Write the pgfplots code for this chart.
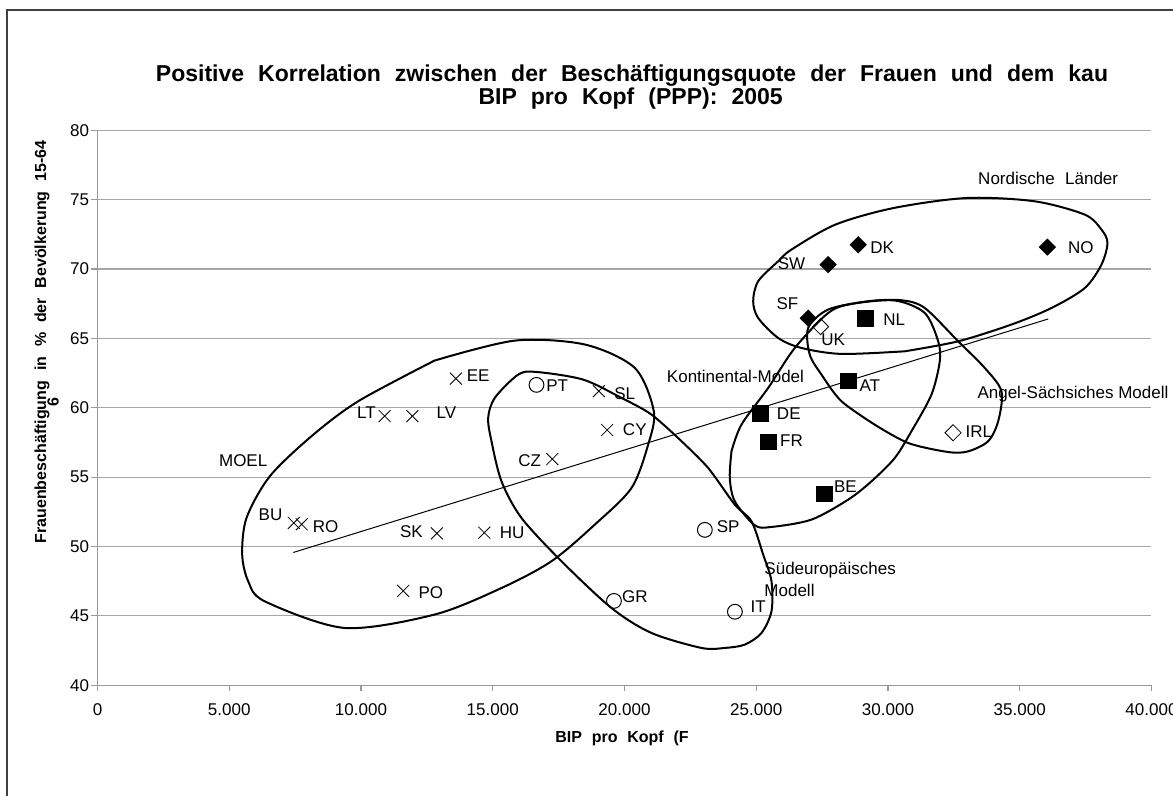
\documentclass[border=0pt]{standalone}
\usepackage{fontspec}
\setmainfont{Liberation Sans}
\newfontfamily\titlefont[WordSpace=2.6]{Liberation Sans}
\newfontfamily\labfont[WordSpace=2.2]{Liberation Sans}
\usepackage{pgfplots}
\pgfplotsset{compat=1.18}
\newcommand\lab{\fontsize{8.5}{11}\selectfont}
\begin{document}
\begin{tikzpicture}[x=1pt,y=1pt]
\useasboundingbox (0,0) rectangle (586.5,398);
\draw[gray!50!black, line width=1pt] (3.5,-5) -- (3.5,393) -- (600,393);
\node[font=\titlefont\bfseries\fontsize{11.5}{13}\selectfont] at (316,360) {Positive Korrelation zwischen der Beschäftigungsquote der Frauen und dem kau};
\node[font=\titlefont\bfseries\fontsize{11.5}{13}\selectfont] at (315.3,348.5) {BIP pro Kopf (PPP): 2005};
\node[font=\labfont\bfseries\fontsize{8}{9}\selectfont, rotate=90] at (21,227) {Frauenbeschäftigung in \% der Bevölkerung 15-64};
\node[font=\labfont\bfseries\fontsize{8}{9}\selectfont, rotate=90] at (26.5,197) {6};
\node[font=\labfont\bfseries\fontsize{8}{10}\selectfont] at (311,29) {BIP pro Kopf (F};
\begin{axis}[
  at={(37,79.8)}, anchor=south west,
  scale only axis, width=527pt, height=277.5pt,
  xmin=0, xmax=40000, ymin=40, ymax=80,
  axis x line=bottom, axis y line=left,
  axis line style={-, gray!80, line width=0.6pt},
  every tick/.style={gray!80, line width=0.6pt},
  tick align=outside, major tick length=3pt,
  xtick={0,5000,...,40000}, ytick={40,45,...,80},
  scaled x ticks=false,
  /pgf/number format/1000 sep={.},
  /pgf/number format/assume math mode=true,
  tick label style={font=\fontsize{8.5}{10}\selectfont, black},
  yticklabel style={inner xsep=1pt},
  xticklabel style={yshift=-2.5pt},
  ymajorgrids, grid style={gray!70, line width=0.6pt},
  clip=false,
]
% group outlines
\addplot[black, line width=1pt, smooth, tension=0.5] coordinates {
(12789,63.40) (15837,64.84) (18493,64.56) (20391,62.87) (21112,59.75) (20899,57.35) (20265,54.22) (18873,51.58) (17229,48.94) (15332,47.01) (12801,45.10) (9385,44.13) (6349,46.05) (5719,47.50) (5492,49.42) (5655,52.06) (6539,55.06) (8121,57.95) (9894,60.47) (12789,63.40)};
\addplot[black, line width=1pt, smooth, tension=0.5] coordinates {
(22163,57.59) (23176,55.66) (24186,53.02) (24819,51.82) (25263,49.42) (25578,47.50) (25578,45.33) (25199,43.77) (24565,42.93) (23806,42.69) (22922,42.69) (21024,43.77) (19506,45.57) (17609,48.94) (16091,52.06) (15332,54.70) (14952,57.59) (14827,59.27) (15077,60.71) (15966,62.39) (16660,62.58) (18432,62.03) (19886,60.71) (21024,59.51) (22163,57.59)};
\addplot[black, line width=1pt, smooth, tension=0.5] coordinates {
(24060,56.86) (24440,58.79) (25453,61.43) (26463,64.31) (27730,66.83) (28614,67.48) (30257,67.73) (31396,66.83) (31905,64.79) (31965,63.35) (31650,60.95) (30891,58.31) (30257,56.38) (29373,54.70) (28489,53.38) (27096,51.94) (25578,51.41) (24945,51.53) (24186,53.26) (23996,54.94) (24060,56.86)};
\addplot[black, line width=1pt, smooth, tension=0.5] coordinates {
(30637,64.07) (28235,63.88) (26717,64.31) (25833,65.03) (25074,66.47) (24884,67.68) (25074,69.12) (25833,70.56) (26337,71.40) (28003,73.20) (30223,74.40) (32998,75.12) (35571,74.88) (37468,73.92) (38102,72.84) (38330,71.88) (38102,70.32) (37468,68.63) (36204,67.19) (34686,66.00) (32664,64.79) (30637,64.07)};
\addplot[black, line width=1pt, smooth, tension=0.5] coordinates {
(29499,58.78) (28235,60.47) (27476,62.39) (27032,63.83) (26971,65.75) (27730,67.08) (29248,67.68) (30512,67.75) (31396,67.19) (32664,64.79) (33673,62.87) (34307,61.19) (34182,59.03) (33802,57.59) (33043,56.86) (32284,56.81) (30766,57.46) (29499,58.78)};
% trend line
\addplot[black, line width=0.5pt] coordinates {(7430,49.57) (36080,66.40)};
% MOEL
\addplot[only marks, mark=x, mark size=4.2pt, mark options={line width=0.4pt, black}] coordinates {
(7450,51.7) (7750,51.6) (10900,59.4) (11950,59.4) (13600,62.1) (17260,56.3) (12880,50.95) (14680,51.0) (11600,46.8) (19030,61.2) (19340,58.4)};
% South
\addplot[only marks, mark=o, mark size=3.7pt, mark options={line width=0.5pt, black, fill=white}] coordinates {
(16660,61.65) (23050,51.2) (19600,46.08) (24190,45.3)};
% Continental
\addplot[only marks, mark=square*, mark size=3.9pt, mark options={black}] coordinates {
(25160,59.6) (25450,57.55) (27580,53.8) (28490,61.95) (29140,66.42)};
% Nordic
\addplot[only marks, mark=square*, mark size=2.85pt, mark options={black, rotate=45}] coordinates {
(28870,71.75) (36050,71.58) (27730,70.32) (26970,66.45)};
% Anglo-Saxon
\addplot[only marks, mark=square, mark size=2.85pt, mark options={black, rotate=45, line width=0.4pt, fill=white}] coordinates {
(27440,65.85) (32470,58.2)};
% labels
\node[font=\lab] at (axis cs:14447,62.34) {EE};
\node[font=\lab] at (axis cs:10209,59.63) {LT};
\node[font=\lab] at (axis cs:13245,59.63) {LV};
\node[font=\lab] at (axis cs:6565,52.30) {BU};
\node[font=\lab] at (axis cs:8653,51.46) {RO};
\node[font=\lab] at (axis cs:11916,51.05) {SK};
\node[font=\lab] at (axis cs:15738,50.98) {HU};
\node[font=\lab] at (axis cs:12649,46.70) {PO};
\node[font=\lab] at (axis cs:16406,56.19) {CZ};
\node[font=\lab] at (axis cs:17446,61.62) {PT};
\node[font=\lab] at (axis cs:20011,61.02) {SL};
\node[font=\lab] at (axis cs:20391,58.43) {CY};
\node[font=\lab] at (axis cs:26235,59.58) {DE};
\node[font=\lab] at (axis cs:26337,57.64) {FR};
\node[font=\lab] at (axis cs:28387,54.34) {BE};
\node[font=\lab] at (axis cs:29310,61.62) {AT};
\node[font=\lab] at (axis cs:30234,66.36) {NL};
\node[font=\lab] at (axis cs:27919,64.92) {UK};
\node[font=\lab] at (axis cs:26185,67.51) {SF};
\node[font=\lab] at (axis cs:26337,70.36) {SW};
\node[font=\lab] at (axis cs:29779,71.52) {DK};
\node[font=\lab] at (axis cs:37316,71.52) {NO};
\node[font=\lab] at (axis cs:33445,58.26) {IRL};
\node[font=\lab] at (axis cs:23933,51.46) {SP};
\node[font=\lab] at (axis cs:20391,46.41) {GR};
\node[font=\lab] at (axis cs:25074,45.69) {IT};
\node[font=\lab] at (axis cs:5529,56.19) {MOEL};
\node[font=\lab] at (axis cs:24212,62.27) {Kontinental-Model};
\node[font=\lab] at (axis cs:37020,61.02) {Angel-Sächsiches Modell};
\node[font=\labfont\fontsize{8.5}{11}\selectfont] at (axis cs:36079,76.52) {Nordische Länder};
\node[font=\lab, align=left, anchor=west, inner sep=0pt] at (axis cs:25297,47.62) {Südeuropäisches\\Modell};
\end{axis}
\end{tikzpicture}
\end{document}
